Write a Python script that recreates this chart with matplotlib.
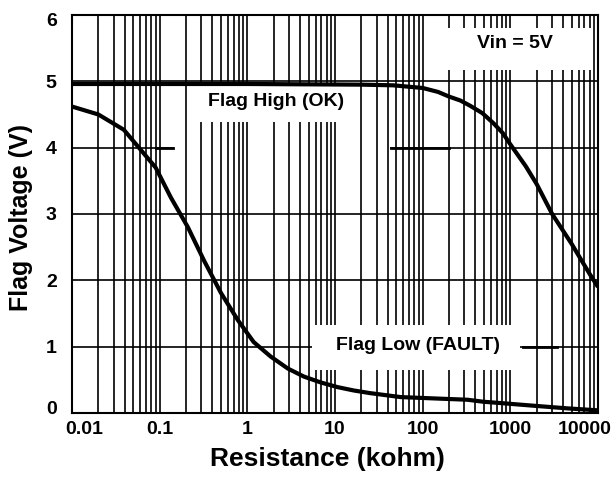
import matplotlib
matplotlib.use('Agg')
import matplotlib.pyplot as plt
import matplotlib.transforms as mtransforms
from matplotlib.patches import Rectangle

# values
res_high = [0.01, 1, 20, 46, 100, 150, 200, 270, 350, 480, 640, 820, 1000, 1500,
            2000, 3000, 5000, 8000, 10000]
v_high = [4.96, 4.96, 4.95, 4.94, 4.9, 4.84, 4.77, 4.71, 4.63, 4.52, 4.37, 4.22, 4.05, 3.72,
          3.45, 3.0, 2.55, 2.1, 1.9]

res_low = [0.01, 0.02, 0.039, 0.058, 0.09, 0.134, 0.21, 0.32, 0.5, 0.78, 1.18, 1.85,
           2.9, 4.4, 6.9, 10.7, 16.3, 25, 56, 133, 324, 490, 770, 1830, 4460, 10000]
v_low = [4.62, 4.5, 4.27, 4.0, 3.7, 3.25, 2.8, 2.3, 1.81, 1.4, 1.07, 0.85,
         0.67, 0.55, 0.46, 0.39, 0.34, 0.3, 0.24, 0.22, 0.2, 0.17, 0.15, 0.11, 0.07, 0.04]

x_ticks = [0.01, 0.1, 1, 10, 100, 1000, 10000]
x_tick_labels = ['0.01', '0.1', '1', '10', '100', '1000', '10000']
y_ticks = [0, 1, 2, 3, 4, 5, 6]

plt.rcParams['font.family'] = 'Liberation Sans'
plt.rcParams['font.weight'] = 'bold'

fig = plt.figure(figsize=(6.16, 4.79), dpi=100)
ax = fig.add_axes([72/616, 66/479, 526/616, 398/479])
ax.set_xscale('log')
ax.set_xlim(0.01, 10000)
ax.set_ylim(0, 6)

# vertical grid (log, major + minor)
ax.set_axisbelow(True)
ax.grid(True, which='both', axis='x', color='black', lw=1.2)

# horizontal grid lines drawn by hand (y=4 has a gap)
for yv in [1, 2, 3, 5]:
    ax.plot([0.01, 10000], [yv, yv], color='black', lw=1.2, zorder=0.8)
ax.plot([0.01, 0.141], [4, 4], color='black', lw=1.2, zorder=0.8)
ax.plot([43, 10000], [4, 4], color='black', lw=1.2, zorder=0.8)
# bold leader segments
ax.plot([0.09, 0.141], [4, 4], color='black', lw=2.0, zorder=0.9)
ax.plot([43, 200], [4, 4], color='black', lw=2.0, zorder=0.9)
ax.plot([1400, 3400], [1, 1], color='black', lw=2.0, zorder=0.9)

# white label boxes
for (x0, x1, y0, y1) in [(0.21, 19.5, 4.38, 4.94), (110, 8500, 5.17, 5.81), (5.5, 1300, 0.65, 1.33)]:
    ax.add_patch(Rectangle((x0, y0), x1 - x0, y1 - y0, facecolor='white',
                           edgecolor='none', zorder=1))

ax.plot(res_high, v_high, color='black', lw=3.0, zorder=3, solid_capstyle='butt')
ax.plot(res_low, v_low, color='black', lw=3.0, zorder=3, solid_capstyle='butt')

ax.text(2.1, 4.70, 'Flag High (OK)', ha='center', va='center', fontsize=14, fontweight='bold', zorder=4)
ax.text(1140, 5.57, 'Vin = 5V', ha='center', va='center', fontsize=14, fontweight='bold', zorder=4)
ax.text(89, 1.02, 'Flag Low (FAULT)', ha='center', va='center', fontsize=14, fontweight='bold', zorder=4)

ax.set_xticks(x_ticks)
ax.set_xticklabels(x_tick_labels)
ax.set_yticks(y_ticks)
ax.tick_params(axis='both', which='both', length=0, labelsize=14)
ax.tick_params(axis='x', pad=6)
ax.tick_params(axis='y', pad=11)
for lab in ax.get_xticklabels() + ax.get_yticklabels():
    lab.set_fontweight('bold')

def shift(lab, dx, dy):
    lab.set_transform(lab.get_transform() +
                      mtransforms.ScaledTranslation(dx * 0.01, dy * 0.01, fig.dpi_scale_trans))

xl = ax.get_xticklabels()
shift(xl[0], 12, 0)
shift(xl[-1], -13, 0)
yl = ax.get_yticklabels()
shift(yl[0], 0, 5)
shift(yl[-1], 0, -5)

for sp in ax.spines.values():
    sp.set_linewidth(1.5)

ax.set_xlabel('Resistance (kohm)', fontsize=19, fontweight='bold')
ax.set_ylabel('Flag Voltage (V)', fontsize=18, fontweight='bold')
ax.xaxis.set_label_coords(0.485, -0.085)
ax.yaxis.set_label_coords(-0.074, 0.49)

fig.savefig('out.png', dpi=100)
